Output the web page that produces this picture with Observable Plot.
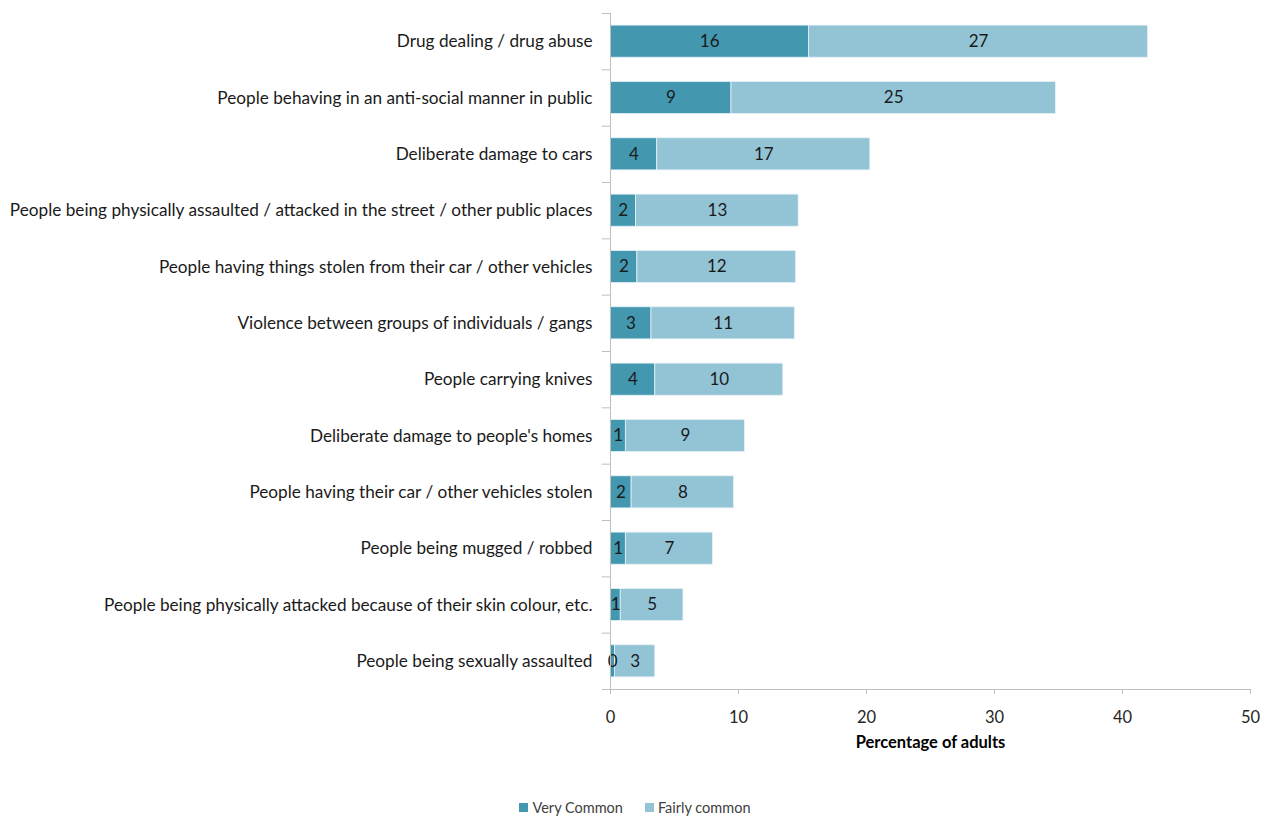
<!DOCTYPE html>
<html>
<head>
<meta charset="utf-8">
<script src="https://cdn.jsdelivr.net/npm/d3@7"></script>
<script src="https://cdn.jsdelivr.net/npm/@observablehq/plot@0.6"></script>
<style>
  html, body { margin: 0; padding: 0; background: #fff; }
  body { width: 1270px; height: 817px; overflow: hidden; font-family: Lato, "Open Sans", sans-serif; }
  #chart svg g[aria-label="x-axis label"] text { font-weight: bold; fill: #000; }
  .legend { display: flex; justify-content: center; gap: 22px; font-size: 14.5px; color: #404040; margin-top: 29px; padding-right: 0px; }
  .legend span.item { display: inline-flex; align-items: center; gap: 4px; }
  .legend span.sw { width: 9px; height: 9px; display: inline-block; }
</style>
</head>
<body>
<div id="chart"></div>
<script>
const categories = [
  "Drug dealing / drug abuse",
  "People behaving in an anti-social manner in public",
  "Deliberate damage to cars",
  "People being physically assaulted / attacked in the street / other public places",
  "People having things stolen from their car / other vehicles",
  "Violence between groups of individuals / gangs",
  "People carrying knives",
  "Deliberate damage to people's homes",
  "People having their car / other vehicles stolen",
  "People being mugged / robbed",
  "People being physically attacked because of their skin colour, etc.",
  "People being sexually assaulted"
];
const veryCommon   = [15.5, 9.45, 3.65, 2.0, 2.1, 3.2, 3.5, 1.2, 1.65, 1.2, 0.8, 0.35];
const fairlyCommon = [26.5, 25.35, 16.65, 12.7, 12.4, 11.2, 10.0, 9.3, 8.0, 6.8, 4.9, 3.15];
const seriesNames = ["Very Common", "Fairly common"];
const seriesColors = ["#4398B0", "#93C4D6"];
const xTicks = [0, 10, 20, 30, 40, 50];

const rows = [];
categories.forEach((c, i) => {
  rows.push({category: c, series: seriesNames[0], value: veryCommon[i]});
  rows.push({category: c, series: seriesNames[1], value: fairlyCommon[i]});
});

const W = 1270, H = 770, mT = 13, mB = 81;
const step = (H - mT - mB) / categories.length;
const axisColor = "#bfbfbf";

const chart = Plot.plot({
  width: W,
  height: H,
  marginLeft: 610,
  marginRight: 20,
  marginTop: mT,
  marginBottom: mB,
  style: {fontFamily: "Lato, 'Open Sans', sans-serif", fontSize: "16px", color: "#1a1a1a", background: "#fff"},
  x: {domain: [0, 50], ticks: xTicks, label: "Percentage of adults"},
  y: {domain: categories, paddingInner: 0.43, paddingOuter: 0.215, round: false, label: null},
  color: {domain: seriesNames, range: seriesColors},
  marks: [
    Plot.barX(rows, Plot.stackX({x: "value", y: "category", fill: "series", order: seriesNames, stroke: "#e6f2f6", strokeWidth: 0.8})),
    Plot.text(rows, Plot.stackX({x: "value", y: "category", z: "series", order: seriesNames, text: d => Math.round(d.value), fill: "#1a1a1a", fontSize: 17})),
    Plot.frame({anchor: "left", stroke: axisColor}),
    Plot.frame({anchor: "bottom", stroke: axisColor}),
    Plot.ruleY(categories, {y: d => d, dy: step / 2, x1: -0.65, x2: 0, stroke: axisColor}),
    Plot.ruleY(categories.slice(0, 1), {y: d => d, dy: -step / 2, x1: -0.65, x2: 0, stroke: axisColor}),
    Plot.axisY({tickSize: 0, tickPadding: 18, fontSize: 17.2, fill: "#1a1a1a", label: null}),
    Plot.axisX({ticks: xTicks, tickSize: 5, tickPadding: 17, stroke: axisColor, fontSize: 16.5, fill: "#262626", label: "Percentage of adults", labelAnchor: "center", labelArrow: "none", labelOffset: 58})
  ]
});
chart.querySelectorAll('g[aria-label="x-axis label"] text').forEach(t => t.setAttribute("font-size", "16.5"));
document.getElementById("chart").appendChild(chart);

const legend = document.createElement("div");
legend.className = "legend";
seriesNames.forEach((s, i) => {
  const item = document.createElement("span");
  item.className = "item";
  const sw = document.createElement("span");
  sw.className = "sw";
  sw.style.background = seriesColors[i];
  item.appendChild(sw);
  item.appendChild(document.createTextNode(s));
  legend.appendChild(item);
});
document.body.appendChild(legend);
</script>
</body>
</html>
